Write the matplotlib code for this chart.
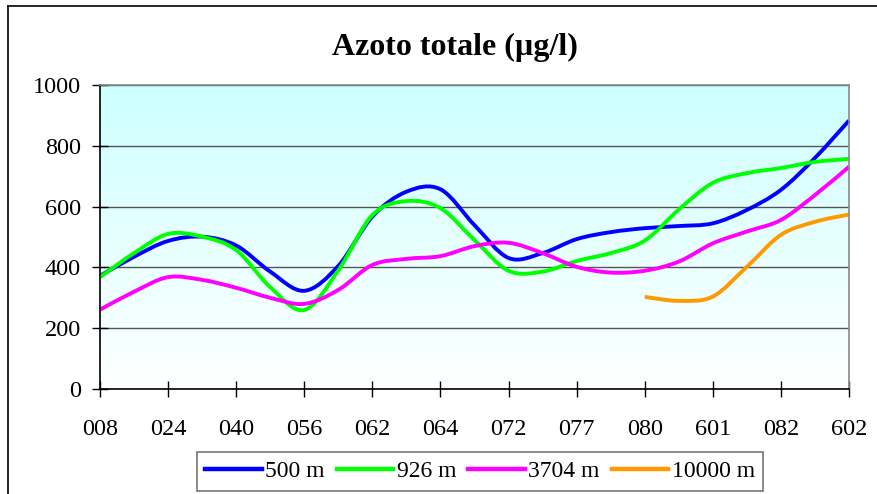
#!/usr/bin/env python
import numpy as np
import matplotlib
matplotlib.use("Agg")
import matplotlib.pyplot as plt
from matplotlib.lines import Line2D
from matplotlib.path import Path
from matplotlib.patches import PathPatch

# stations on the x axis (only every other point carries a label)
labels = ['008', '024', '040', '056', '062', '064', '072', '077', '080', '601', '082', '602']

# total nitrogen (ug/l), one value per point, 23 points
n500 = [372, 435, 487, 501, 472, 386, 323, 405, 567, 649, 657, 539,
        431, 447, 493, 516, 529, 536, 545, 589, 655, 760, 883]
n926 = [368, 447, 510, 501, 457, 335, 260, 390, 572, 618, 595, 490,
        389, 386, 421, 447, 488, 590, 678, 710, 727, 747, 757]
n3704 = [261, 320, 368, 359, 333, 300, 280, 326, 408, 428, 437, 470,
         481, 447, 402, 383, 389, 419, 479, 518, 556, 638, 731]
n10000 = [None] * 16 + [303, 290, 304, 402, 507, 550, 574]

series = [('500 m', n500, '#0000FF'),
          ('926 m', n926, '#00FF00'),
          ('3704 m', n3704, '#FF00FF'),
          ('10000 m', n10000, '#FF9900')]


def smooth_path(xs, ys):
    # bezier curve through the points, like a spreadsheet "smoothed line"
    pts = np.column_stack([xs, ys]).astype(float)
    verts = [pts[0]]
    codes = [Path.MOVETO]
    for i in range(len(pts) - 1):
        p0 = pts[i - 1] if i > 0 else pts[i]
        p1 = pts[i]
        p2 = pts[i + 1]
        p3 = pts[i + 2] if i + 2 < len(pts) else pts[i + 1]
        verts += [p1 + (p2 - p0) / 6., p2 - (p3 - p1) / 6., p2]
        codes += [Path.CURVE4] * 3
    return Path(verts, codes)


def plot_azoto():
    plt.rcParams['font.family'] = ['Liberation Serif', 'DejaVu Serif']
    fig = plt.figure(figsize=(8.77, 4.94), dpi=100)
    ax = fig.add_axes([100 / 877, 105 / 494, 749 / 877, 304 / 494])

    n = len(n500)
    x = np.arange(n)

    # plot area gradient, cyan on top fading to white
    grad = np.linspace(0, 1, 256).reshape(-1, 1)
    top = np.array([204, 255, 255]) / 255.
    img = top[None, None, :] * (1 - grad[:, :, None]) + grad[:, :, None]
    ax.imshow(img, extent=[0, n - 1, 0, 1000], origin='upper',
              aspect='auto', zorder=0)

    handles = []
    for name, vals, col in series:
        keep = [i for i, v in enumerate(vals) if v is not None]
        xs = x[keep]
        ys = [vals[i] for i in keep]
        patch = PathPatch(smooth_path(xs, ys), fill=False, edgecolor=col,
                          lw=2.8, joinstyle='round', capstyle='butt',
                          zorder=3, clip_on=False)
        ax.add_patch(patch)
        handles.append(Line2D([], [], color=col, lw=3.2, label=name))

    ax.set_xlim(0, n - 1)
    ax.set_ylim(0, 1000)
    ax.set_xticks(x[::2])
    ax.set_xticklabels(labels)
    ax.set_yticks(np.arange(0, 1001, 200))
    ax.yaxis.grid(True, color='#555555', lw=1.0)
    for g in ax.get_ygridlines():
        g.set_zorder(1)

    ax.tick_params(axis='both', direction='inout', length=11.5, width=1,
                   labelsize=17.5, color='black')
    ax.tick_params(axis='x', pad=15.5)
    ax.tick_params(axis='y', pad=8)

    ax.spines['left'].set_color('black')
    ax.spines['bottom'].set_color('black')
    ax.spines['top'].set_color('#888888')
    ax.spines['right'].set_color('#888888')
    for s in ax.spines.values():
        s.set_linewidth(1.2)
        s.set_zorder(4)

    fig.text(455 / 877, 1 - 47 / 494, 'Azoto totale (\u00b5g/l)', ha='center',
             va='center', fontsize=23, fontweight='bold')

    leg = fig.legend(handles=handles, loc='center',
                     bbox_to_anchor=(480 / 877, 1 - 471.5 / 494),
                     ncol=4, fontsize=17, frameon=True, fancybox=False,
                     handlelength=2.4, handletextpad=0.15, columnspacing=0.5,
                     borderpad=0.35, borderaxespad=0)
    leg.get_frame().set_edgecolor('#555555')
    leg.get_frame().set_linewidth(1.2)

    # outer chart border (left and top visible)
    fig.add_artist(Line2D([8 / 877, 8 / 877], [0, 1 - 6 / 494], color='black',
                          lw=1.2, transform=fig.transFigure))
    fig.add_artist(Line2D([8 / 877, 1], [1 - 6 / 494, 1 - 6 / 494], color='black',
                          lw=1.2, transform=fig.transFigure))

    plt.savefig('out.png', dpi=100)


if __name__ == "__main__":
    plot_azoto()
